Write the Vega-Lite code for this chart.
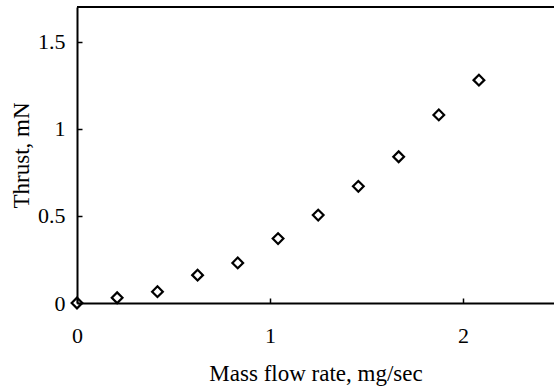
{
  "$schema": "https://vega.github.io/schema/vega-lite/v6.json",
  "autosize": "none",
  "width": 477,
  "height": 296,
  "padding": {"left": 77, "top": 7, "right": 0, "bottom": 86},
  "background": "white",
  "config": {
    "view": {"stroke": null},
    "font": "Liberation Serif",
    "axis": {"labelFont": "Liberation Serif", "titleFont": "Liberation Serif"}
  },
  "data": {
    "values": [
      {"flow": 0.0, "thrust": 0.0},
      {"flow": 0.208, "thrust": 0.03},
      {"flow": 0.417, "thrust": 0.065},
      {"flow": 0.625, "thrust": 0.16},
      {"flow": 0.833, "thrust": 0.23},
      {"flow": 1.042, "thrust": 0.37},
      {"flow": 1.25, "thrust": 0.505},
      {"flow": 1.458, "thrust": 0.67},
      {"flow": 1.667, "thrust": 0.84},
      {"flow": 1.875, "thrust": 1.08},
      {"flow": 2.083, "thrust": 1.28}
    ]
  },
  "layer": [
    {
      "mark": {"type": "rule", "color": "black", "strokeWidth": 2},
      "encoding": {"y": {"datum": 1.7}}
    },
    {
      "mark": {"type": "point", "shape": "diamond", "filled": false, "color": "black", "strokeWidth": 2.2, "size": 115, "opacity": 1, "clip": false},
      "encoding": {
        "x": {
          "field": "flow", "type": "quantitative",
          "scale": {"domain": [0, 2.472], "nice": false, "zero": true},
          "axis": {
            "title": "Mass flow rate, mg/sec",
            "values": [0, 1, 2],
            "format": "d",
            "grid": false,
            "labelFlush": false,
            "domainColor": "black", "domainWidth": 2,
            "tickColor": "black", "tickWidth": 1.5, "tickSize": -5,
            "labelPadding": 27,
            "labelFont": "Liberation Serif", "labelFontSize": 22, "labelColor": "black",
            "titleFont": "Liberation Serif", "titleFontSize": 23, "titleFontWeight": "normal", "titleColor": "black",
            "titlePadding": 16
          }
        },
        "y": {
          "field": "thrust", "type": "quantitative",
          "scale": {"domain": [0, 1.7], "nice": false},
          "axis": {
            "title": "Thrust, mN",
            "values": [0, 0.5, 1, 1.5],
            "format": "~g",
            "grid": false,
            "labelFlush": false,
            "domainColor": "black", "domainWidth": 2,
            "tickColor": "black", "tickWidth": 1.5, "tickSize": -5,
            "labelPadding": 17,
            "labelFont": "Liberation Serif", "labelFontSize": 22, "labelColor": "black",
            "titleFont": "Liberation Serif", "titleFontSize": 23, "titleFontWeight": "normal", "titleColor": "black",
            "titlePadding": 4
          }
        }
      }
    }
  ]
}
